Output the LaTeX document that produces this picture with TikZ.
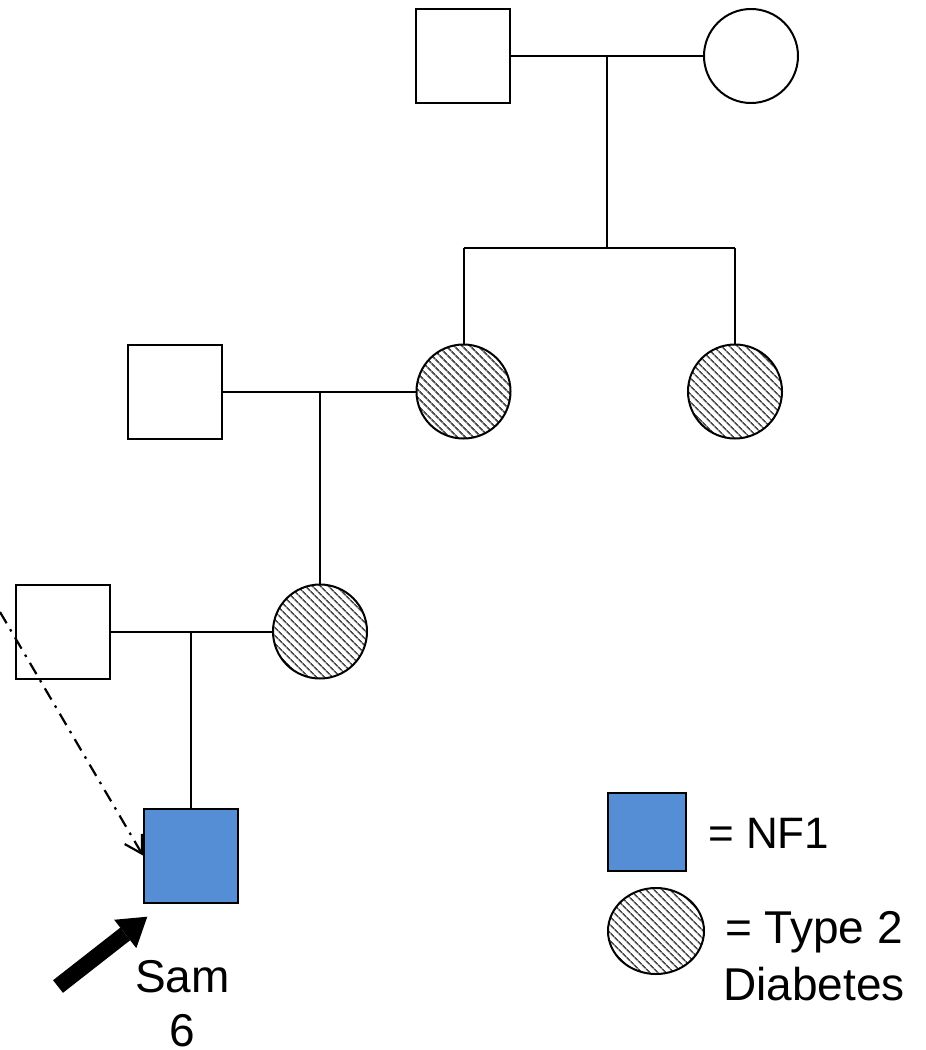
\documentclass[tikz,border=0pt]{standalone}
\usepackage{fontspec}
\setmainfont{Liberation Sans}
\usetikzlibrary{patterns.meta,arrows.meta,shapes.geometric}
\definecolor{nfblue}{HTML}{558ED5}
\begin{document}
\begin{tikzpicture}[x=1pt,y=-1pt,
  lw/.style={line width=2pt},
  male/.style={draw,lw,rectangle,minimum size=94pt,inner sep=0pt},
  female/.style={draw,lw,circle,minimum size=94pt,inner sep=0pt},
  affected/.style={female,pattern={Lines[angle=-45,distance=5.4pt,line width=1.7pt]},pattern color=black!70},
  nf/.style={male,fill=nfblue},
  link/.style={lw},
  lbl/.style={inner sep=0pt}]
\useasboundingbox (0,0) rectangle (926,1050);
% generation I
\node[male] (f1) at (463,56) {};
\node[female] (m1) at (751,56) {};
% generation II
\node[male] (f2) at (175,391.5) {};
\node[affected] (d1) at (463.5,391.5) {};
\node[affected] (d2) at (735,391.5) {};
% generation III
\node[male] (f3) at (63,631.5) {};
\node[affected] (d3) at (320,631.5) {};
% proband
\node[nf] (sam) at (191,855.5) {};
% connectors
\coordinate (c1) at (607,56);
\coordinate (s1) at (607,248);
\coordinate (s1l) at (d1.north |- s1);
\coordinate (s1r) at (d2.north |- s1);
\draw[link] (f1.east) -- (m1.west);
\draw[link] (c1) -- (s1);
\draw[link] (s1l) -- (s1r);
\draw[link] (s1l) -- (d1.north);
\draw[link] (s1r) -- (d2.north);
\coordinate (c2) at (d3.north |- f2.east);
\draw[link] (f2.east) -- (d1.west);
\draw[link] (c2) -- (d3.north);
\coordinate (c3) at (sam.north |- f3.east);
\draw[link] (f3.east) -- (d3.west);
\draw[link] (c3) -- (sam.north);
% dash-dot arrow
\coordinate (dstart) at (0,612);
\draw[line width=2.2pt,dash pattern=on 13pt off 7pt on 2.5pt off 7pt,-{Straight Barb[length=17pt,width=20pt]}] (dstart) -- (sam.west);
% thick arrow
\coordinate (atail) at (58,986.5);
\coordinate (atip) at (147.3,916.7);
\draw[line width=16pt,-{Triangle[length=28pt,width=36pt,line width=0pt]}] (atail) -- (atip);
% labels
\node[lbl,anchor=north,align=center,font=\fontsize{46}{54}\selectfont] (samlbl) at (182.5,960.5) {Sam\\6};
% legend
\node[nf,minimum size=78pt] (legsq) at (647,832) {};
\node[affected,ellipse,minimum width=96pt,minimum height=86pt] (legel) at (656,931) {};
\node[lbl,anchor=base west,font=\fontsize{44}{52}\selectfont] (nflbl) at (708,848) {= NF1};
\node[lbl,anchor=base,font=\fontsize{46}{57}\selectfont] (t2lbl) at (814,943) {\begin{tabular}[t]{@{}c@{}}= Type 2\\Diabetes\end{tabular}};
\end{tikzpicture}
\end{document}
